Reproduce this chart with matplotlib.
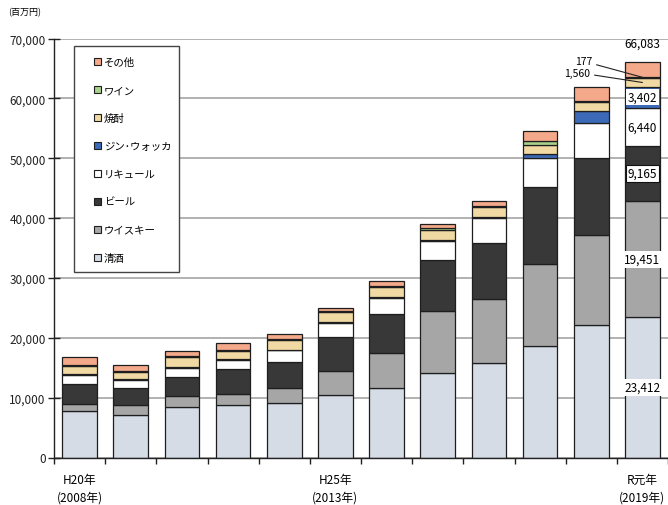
import matplotlib
matplotlib.use('Agg')
import matplotlib.pyplot as plt
import numpy as np
from matplotlib.patches import Patch, Rectangle
from matplotlib.ticker import FuncFormatter, MultipleLocator, FixedLocator

plt.rcParams['font.family'] = ['Noto Sans CJK JP', 'DejaVu Sans']

# 酒類輸出金額 (百万円), 2008-2019
years = list(range(2008, 2020))
tick_text = {0: 'H20年\n(2008年)', 5: 'H25年\n(2013年)', 11: 'R元年\n(2019年)'}

sake = [7770, 7150, 8380, 8830, 9050, 10500, 11550, 14050, 15770, 18600, 22170, 23412]
whisky = [1250, 1650, 1870, 1840, 2500, 3930, 5830, 10350, 10780, 13700, 14930, 19451]
beer = [3180, 2750, 3150, 4050, 4330, 5620, 6670, 8570, 9330, 12870, 12900, 9165]
liqueur = [1570, 1380, 1630, 1580, 2000, 2450, 2670, 3200, 4170, 4930, 5830, 6440]
gin_vodka = [150, 120, 120, 130, 150, 150, 150, 180, 200, 570, 2000, 3402]
shochu = [1400, 1250, 1600, 1370, 1570, 1600, 1560, 1700, 1580, 1550, 1550, 1560]
wine = [200, 180, 200, 200, 200, 200, 200, 250, 250, 610, 180, 177]
other = [1250, 1040, 850, 1050, 900, 600, 800, 700, 850, 1720, 2270, 2476]

names = ['清酒', 'ウイスキー', 'ビール', 'リキュール', 'ジン･ウォッカ', '焼酎', 'ワイン', 'その他']
series = [sake, whisky, beer, liqueur, gin_vodka, shochu, wine, other]
colors = ['#d6dce6', '#a6a6a6', '#383838', '#ffffff', '#3d6ab8', '#f0d9a2', '#a9d18e', '#f4a98a']

fig = plt.figure(figsize=(6.68, 5.06), dpi=100)
ax = fig.add_axes([54 / 668, 47.5 / 506, 614 / 668, 419 / 506])

x = np.arange(len(years))
bottom = np.zeros(len(years))
bars = []
for vals, c in zip(series, colors):
    b = ax.bar(x, vals, width=0.68, bottom=bottom, color=c,
               edgecolor='#1e1e1e', linewidth=0.9, zorder=2)
    bars.append(b)
    bottom += np.array(vals)

ax.set_xlim(-0.5, 11.5)
ax.set_ylim(0, 70000)
ax.yaxis.set_major_locator(MultipleLocator(10000))
ax.yaxis.set_major_formatter(FuncFormatter(lambda v, p: '{:,.0f}'.format(v)))
ax.yaxis.grid(True, color='#ababab', linewidth=1.3)
ax.set_axisbelow(True)
for s in ['top', 'right']:
    ax.spines[s].set_visible(False)
for s in ['left', 'bottom']:
    ax.spines[s].set_color('#222222')
    ax.spines[s].set_linewidth(1.0)
ax.tick_params(axis='y', direction='inout', length=8, width=1, labelsize=8.5,
               pad=2, colors='#222222')

ax.set_xticks(list(tick_text.keys()))
ax.set_xticklabels(list(tick_text.values()), fontsize=8.5, linespacing=1.5)
ax.tick_params(axis='x', which='major', length=0, pad=11)
ax.xaxis.set_minor_locator(FixedLocator(np.arange(-0.5, 11.6, 1)))
ax.tick_params(axis='x', which='minor', direction='out', length=4, width=1,
               colors='#222222')

fig.text(8 / 668, 1 - 13 / 506, '(百万円)', fontsize=6.5, va='center', ha='left')

# legend, top series first
handles = [Patch(facecolor=c, edgecolor='#1e1e1e', linewidth=0.8) for c in colors]
leg = ax.legend(handles[::-1], names[::-1], loc='upper left',
                bbox_to_anchor=(0.057, 0.968), frameon=False, fontsize=7.5,
                handlelength=0.65, handleheight=0.65, handletextpad=0.3,
                labelspacing=1.72, borderpad=0)
ax.add_patch(Rectangle((20 / 614, (458.5 - 272.7) / 419), 105 / 614, 225.4 / 419,
                       transform=ax.transAxes, facecolor='white',
                       edgecolor='#444444', linewidth=1.0, zorder=3))
leg.set_zorder(4)

# value labels on the latest year
last = len(years) - 1
cum = 0
box_style = {0: dict(facecolor='white', edgecolor='none', pad=1.5),
             1: dict(facecolor='white', edgecolor='none', pad=1.5),
             2: dict(facecolor='white', edgecolor='#111111', linewidth=0.8, pad=1.5),
             3: None,
             4: dict(facecolor='white', edgecolor='none', pad=1.0)}
for i, vals in enumerate(series):
    v = vals[last]
    if i in box_style:
        ax.text(last, cum + v / 2, '{:,}'.format(v), ha='center', va='center',
                fontsize=8.5, bbox=box_style[i], zorder=5)
    cum += v

total = sum(s[last] for s in series)
ax.annotate('{:,}'.format(total), (last, total), xytext=(0, 9),
            textcoords='offset points', ha='center', va='bottom', fontsize=8.5)

top_shochu = sum(s[last] for s in series[:6])
ax.annotate('{:,}'.format(wine[last]), (last, top_shochu + wine[last] / 2),
            xytext=(-50, 16), textcoords='offset pixels', ha='right', va='center',
            fontsize=7.5, arrowprops=dict(arrowstyle='-', color='#222222', lw=0.8,
                                          shrinkA=1, shrinkB=0))
ax.annotate('{:,}'.format(shochu[last]), (last, top_shochu - shochu[last] / 2),
            xytext=(-52, 10), textcoords='offset pixels', ha='right', va='center',
            fontsize=7.5, arrowprops=dict(arrowstyle='-', color='#222222', lw=0.8,
                                          shrinkA=1, shrinkB=0))

fig.savefig('out.png', dpi=100)
